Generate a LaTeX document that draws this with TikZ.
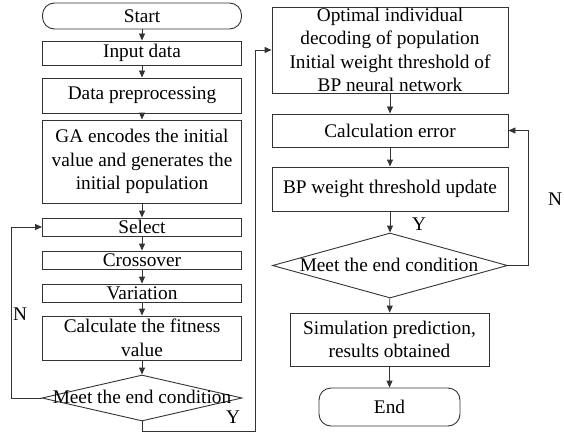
\documentclass[tikz,border=0pt]{standalone}
\usepackage{fontspec}
\setmainfont{Liberation Serif}
\usetikzlibrary{arrows.meta,shapes.geometric}

\begin{document}
\begin{tikzpicture}[
    % 坐标单位:1pt,y轴向下(方便按像素取位置)
    x=1pt, y=-1pt,
    % 矩形框样式
    mybox/.style={
        rectangle, % 节点形状:矩形
        draw=black!80, % 边框颜色
        line width=0.9pt, % 边框宽度
        inner sep=0pt, % 内部留白设为0,尺寸由 minimum 控制
        align=center, % 多行文字居中
        font=\fontsize{19.3}{23.5}\selectfont
        },
    % 开始/结束框:圆角
    myterm/.style={mybox, rounded corners=12pt},
    % 判断框:菱形(文字另放)
    mydiam/.style={diamond, draw=black!80, line width=0.9pt, inner sep=0pt},
    % 文字与标注样式
    mylabel/.style={inner sep=0pt, font=\fontsize{19.3}{23.5}\selectfont},
    % 线条样式
    myline/.style={draw=black!80, line width=0.9pt},
    myarrow/.style={myline, -{Triangle[length=7pt,width=6pt]}}
    ]
    \useasboundingbox (0,0) rectangle (564,441);
    % ========== 第一步:左列(GA部分) ==========
    \node [myterm, minimum width=199pt, minimum height=26pt] (start) at (142,16) {Start};
    \foreach \name/\y/\h/\txt in {
        input/53/24/{Input data},
        prep/95.5/35/{Data preprocessing},
        ga/161.5/83/{GA encodes the initial\\value and generates the\\initial population},
        sel/227/18/{Select},
        cross/260/18/{Crossover},
        var/293/18/{Variation},
        fit/338/44/{Calculate the fitness\\value}} {
        \node [mybox, minimum width=199pt, minimum height=\h pt] (\name) at (142,\y) {\txt};
    }
    \node [mydiam, minimum width=200pt, minimum height=46pt] (d1) at (142,398) {};
    \node [mylabel] (d1txt) at (142,397) {Meet the end condition};
    % ========== 第二步:右列(BP部分) ==========
    \foreach \name/\y/\h/\txt in {
        opt/50/86/{Optimal individual\\decoding of population\\Initial weight threshold of\\BP neural network},
        err/130.5/33/{Calculation error},
        upd/189/44/{BP weight threshold update}} {
        \node [mybox, minimum width=236pt, minimum height=\h pt] (\name) at (390,\y) {\txt};
    }
    \node [mydiam, minimum width=235pt, minimum height=65pt] (d2) at (390,265.5) {};
    \node [mylabel] (d2txt) at (389,265) {Meet the end condition};
    \node [mybox, minimum width=199pt, minimum height=53pt] (sim) at (389.5,339.5) {Simulation prediction,\\results obtained};
    \node [myterm, minimum width=141pt, minimum height=38pt] (end) at (389.5,407) {End};
    % ========== 第三步:竖直箭头 ==========
    \foreach \a/\b in {start/input, input/prep, prep/ga, ga/sel, sel/cross, cross/var, var/fit, fit/d1,
        opt/err, err/upd, upd/d2, d2/sim, sim/end} {
        \draw [myarrow] (\a) -- (\b);
    }
    % ========== 第四步:回路与跳转 ==========
    \draw [myarrow] (d1.west) -- ++(-30,0) |- (sel.west);
    \draw [myarrow] (d1.south) -- ++(0,10) -- ++(113,0) |- (opt.west);
    \draw [myarrow] (d2.east) -- ++(20.5,0) |- (err.east);
    % 判断标注
    \node [mylabel] (n1) at (20,314) {N};
    \node [mylabel] (y1) at (233,417) {Y};
    \node [mylabel] (y2) at (419,224) {Y};
    \node [mylabel] (n2) at (555,199) {N};
\end{tikzpicture}
\end{document}
